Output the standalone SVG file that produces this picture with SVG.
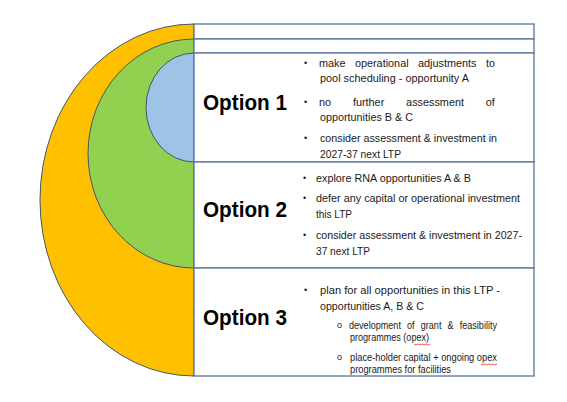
<svg xmlns="http://www.w3.org/2000/svg" width="567" height="402" viewBox="0 0 567 402">
<style>
.shape{stroke:#44546A;stroke-width:1}
.row{fill:#ffffff;stroke:#5B73A3;stroke-width:1.3}
.opt{font-family:"Liberation Sans",Arial,sans-serif;font-weight:bold;font-size:22px;fill:#000}
.t{font-family:"Liberation Sans",Arial,sans-serif;font-size:11.5px;fill:#1a1a1a}
.s{font-family:"Liberation Sans",Arial,sans-serif;font-size:10px;fill:#1a1a1a}
.b{font-family:"Liberation Sans",Arial,sans-serif;font-size:9px;fill:#1a1a1a}
.sq{fill:none;stroke:#e03030;stroke-width:0.8}
</style>
<rect x="0" y="0" width="567" height="402" fill="#ffffff"/>
<g id="shapes">
<path class="shape" d="M194,24 A154,176 0 0 0 194,376 Z" fill="#FFC000"/>
<path class="shape" d="M194,39 A106,114.5 0 0 0 194,268 Z" fill="#92D050"/>
<path class="shape" d="M194,53 A48,54.5 0 0 0 194,162 Z" fill="#9DC3E6"/>
</g>
<g id="rows">
<rect class="row" x="194" y="24" width="340" height="15"/>
<rect class="row" x="194" y="39" width="340" height="14"/>
</g>
<g id="option1">
<rect class="row" x="194" y="53" width="340" height="109"/>
<text class="opt" x="203" y="110" textLength="84" lengthAdjust="spacingAndGlyphs">Option 1</text>
<text class="b" x="304" y="66">•</text>
<text class="t" x="319" y="67" textLength="26.5" lengthAdjust="spacingAndGlyphs">make</text>
<text class="t" x="354.9" y="67" textLength="53.7" lengthAdjust="spacingAndGlyphs">operational</text>
<text class="t" x="418" y="67" textLength="58.5" lengthAdjust="spacingAndGlyphs">adjustments</text>
<text class="t" x="486" y="67" textLength="9" lengthAdjust="spacingAndGlyphs">to</text>
<text class="t" x="320" y="82" textLength="149" lengthAdjust="spacingAndGlyphs">pool scheduling - opportunity A</text>
<text class="b" x="304" y="105">•</text>
<text class="t" x="319" y="106" textLength="12.1" lengthAdjust="spacingAndGlyphs">no</text>
<text class="t" x="352.9" y="106" textLength="31.4" lengthAdjust="spacingAndGlyphs">further</text>
<text class="t" x="406.1" y="106" textLength="57.9" lengthAdjust="spacingAndGlyphs">assessment</text>
<text class="t" x="485.8" y="106" textLength="9.1" lengthAdjust="spacingAndGlyphs">of</text>
<text class="t" x="320" y="121" textLength="93" lengthAdjust="spacingAndGlyphs">opportunities B &amp; C</text>
<text class="b" x="304" y="141">•</text>
<text class="t" x="320" y="142" textLength="177" lengthAdjust="spacingAndGlyphs">consider assessment &amp; investment in</text>
<text class="t" x="320" y="158" textLength="81" lengthAdjust="spacingAndGlyphs">2027-37 next LTP</text>
</g>
<g id="option2">
<rect class="row" x="194" y="162" width="340" height="106"/>
<text class="opt" x="203" y="217" textLength="84" lengthAdjust="spacingAndGlyphs">Option 2</text>
<text class="b" x="303" y="181">•</text>
<text class="t" x="316" y="182" textLength="155" lengthAdjust="spacingAndGlyphs">explore RNA opportunities A &amp; B</text>
<text class="b" x="303" y="201">•</text>
<text class="t" x="316" y="202" textLength="204" lengthAdjust="spacingAndGlyphs">defer any capital or operational investment</text>
<text class="t" x="316" y="218" textLength="36" lengthAdjust="spacingAndGlyphs">this LTP</text>
<text class="b" x="303" y="238">•</text>
<text class="t" x="316" y="239" textLength="206" lengthAdjust="spacingAndGlyphs">consider assessment &amp; investment in 2027-</text>
<text class="t" x="316" y="255" textLength="54" lengthAdjust="spacingAndGlyphs">37 next LTP</text>
</g>
<g id="option3">
<rect class="row" x="194" y="268" width="340" height="108"/>
<text class="opt" x="203" y="325" textLength="84" lengthAdjust="spacingAndGlyphs">Option 3</text>
<text class="b" x="304" y="293">•</text>
<text class="t" x="320" y="294" textLength="180" lengthAdjust="spacingAndGlyphs">plan for all opportunities in this LTP -</text>
<text class="t" x="320" y="310" textLength="104" lengthAdjust="spacingAndGlyphs">opportunities A, B &amp; C</text>
<text class="b" x="337" y="328">o</text>
<text class="s" x="349" y="329" textLength="51.9" lengthAdjust="spacingAndGlyphs">development</text>
<text class="s" x="407" y="329" textLength="7.6" lengthAdjust="spacingAndGlyphs">of</text>
<text class="s" x="420.8" y="329" textLength="20.6" lengthAdjust="spacingAndGlyphs">grant</text>
<text class="s" x="447.5" y="329" textLength="6" lengthAdjust="spacingAndGlyphs">&amp;</text>
<text class="s" x="459.7" y="329" textLength="37.3" lengthAdjust="spacingAndGlyphs">feasibility</text>
<text class="s" x="350" y="341" textLength="79" lengthAdjust="spacingAndGlyphs">programmes (opex)</text>
<path class="sq" d="M414,344 l2,1 l2,-1 l2,1 l2,-1 l2,1 l2,-1 l2,1 l2,-1"/>
<text class="b" x="337" y="360">o</text>
<text class="s" x="350" y="361" textLength="147" lengthAdjust="spacingAndGlyphs">place-holder capital + ongoing opex</text>
<path class="sq" d="M481,364 l2,1 l2,-1 l2,1 l2,-1 l2,1 l2,-1 l2,1 l2,-1"/>
<text class="s" x="350" y="373" textLength="101" lengthAdjust="spacingAndGlyphs">programmes for facilities</text>
</g>
<g id="connectors"></g>
</svg>
